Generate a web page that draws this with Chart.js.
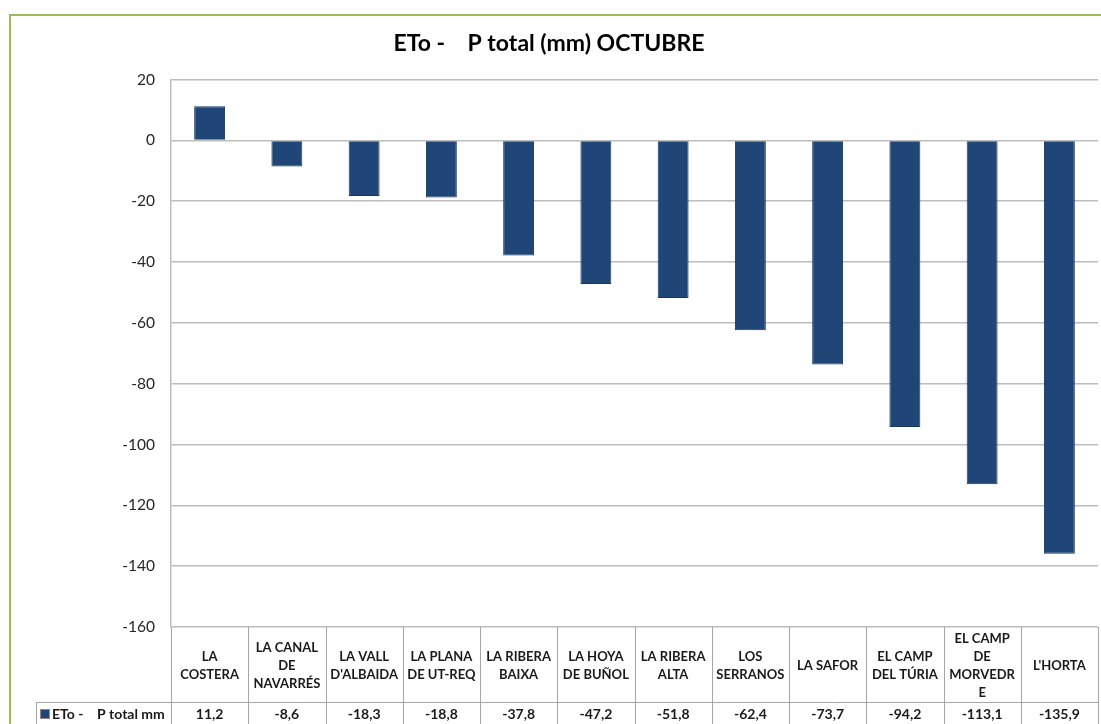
<!DOCTYPE html>
<html>
<head>
<meta charset="utf-8">
<script src="https://cdn.jsdelivr.net/npm/chart.js@4"></script>
<style>
  html, body { margin: 0; padding: 0; background: #fff; }
  #wrap { width: 1101px; height: 724px; }
</style>
</head>
<body>
<div id="wrap"><canvas id="chart" width="1101" height="724"></canvas></div>
<script>
const comarcas = [
  ["LA", "COSTERA"],
  ["LA CANAL", "DE", "NAVARRÉS"],
  ["LA VALL", "D'ALBAIDA"],
  ["LA PLANA", "DE UT-REQ"],
  ["LA RIBERA", "BAIXA"],
  ["LA HOYA", "DE BUÑOL"],
  ["LA RIBERA", "ALTA"],
  ["LOS", "SERRANOS"],
  ["LA SAFOR"],
  ["EL CAMP", "DEL TÚRIA"],
  ["EL CAMP", "DE", "MORVEDR", "E"],
  ["L'HORTA"]
];
const etoMenosP = [11.2, -8.6, -18.3, -18.8, -37.8, -47.2, -51.8, -62.4, -73.7, -94.2, -113.1, -135.9];
const serieLabel = "ETo -    P total mm";
const titulo = "ETo -    P total (mm) OCTUBRE";

const barColor = "#1f4677";
const gridColor = "#bdbdbd";
const font = "Lato, 'Open Sans', sans-serif";

// green frame around the chart
const frame = {
  id: "frame",
  beforeDraw(chart) {
    const ctx = chart.ctx;
    ctx.save();
    ctx.strokeStyle = "#9bbb59";
    ctx.lineWidth = 2;
    ctx.strokeRect(10, 15, 1200, 800);
    ctx.restore();
  }
};

// excel style data table under the plot
const dataTable = {
  id: "dataTable",
  afterDraw(chart) {
    const ctx = chart.ctx;
    const x = chart.scales.x;
    const area = chart.chartArea;
    const top = area.bottom;
    const rowY = 702;
    const bottom = 730;
    const w = (area.right - area.left) / comarcas.length;

    ctx.save();
    ctx.strokeStyle = "#a6a6a6";
    ctx.lineWidth = 1;
    ctx.beginPath();
    for (let i = 0; i <= comarcas.length; i++) {
      const px = Math.round(area.left + i * w) + 0.5;
      ctx.moveTo(px, top);
      ctx.lineTo(px, bottom);
    }
    ctx.moveTo(36, rowY + 0.5);
    ctx.lineTo(area.right, rowY + 0.5);
    ctx.moveTo(36.5, rowY);
    ctx.lineTo(36.5, bottom);
    ctx.stroke();

    ctx.fillStyle = "#1a1a1a";
    ctx.textAlign = "center";
    ctx.textBaseline = "middle";
    const lh = 18;
    comarcas.forEach((lines, i) => {
      const cx = x.getPixelForValue(i);
      const cy = (top + rowY) / 2 + 1;
      ctx.font = "bold 13px " + font;
      lines.forEach((t, j) => {
        ctx.fillText(t, cx, cy - (lines.length - 1) * lh / 2 + j * lh);
      });
      ctx.font = "bold 14px " + font;
      const v = etoMenosP[i].toFixed(1).replace(".", ",");
      ctx.fillText(v, cx, rowY + 12);
    });

    // legend key
    ctx.fillStyle = barColor;
    ctx.fillRect(41, rowY + 8, 8, 8);
    ctx.strokeStyle = "#8a8a8a";
    ctx.strokeRect(40.5, rowY + 7.5, 9, 9);
    ctx.fillStyle = "#1a1a1a";
    ctx.textAlign = "left";
    ctx.font = "bold 14px " + font;
    ctx.fillText(serieLabel, 52, rowY + 12);
    ctx.restore();
  }
};

new Chart(document.getElementById("chart"), {
  type: "bar",
  data: {
    labels: comarcas,
    datasets: [{
      label: serieLabel,
      data: etoMenosP,
      backgroundColor: barColor,
      borderColor: "#17375e",
      borderWidth: 1,
      barPercentage: 0.4,
      categoryPercentage: 1
    }]
  },
  options: {
    responsive: false,
    animation: false,
    layout: { padding: { left: 0, right: 3, top: 0, bottom: 97 } },
    plugins: {
      legend: { display: false },
      tooltip: { enabled: false },
      title: {
        display: true,
        text: titulo,
        color: "#000",
        font: { family: font, size: 23, weight: "bold" },
        padding: { top: 30, bottom: 22 }
      }
    },
    scales: {
      x: { display: false },
      y: {
        min: -160,
        max: 20,
        ticks: {
          stepSize: 20,
          color: "#262626",
          padding: 16,
          font: { family: font, size: 15.5 }
        },
        grid: { color: gridColor, lineWidth: 1.5, drawTicks: false },
        border: { color: gridColor, width: 1.5 },
        afterFit(scale) { scale.width = 171; }
      }
    }
  },
  plugins: [frame, dataTable]
});
</script>
</body>
</html>
